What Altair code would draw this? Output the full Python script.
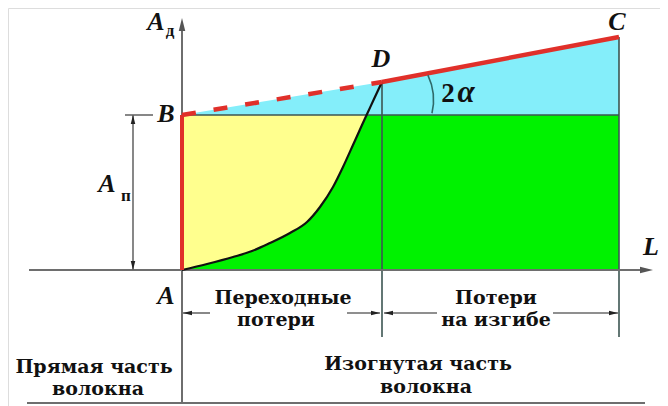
import altair as alt
import pandas as pd

# ---------------- data (diagram units: L to the right, A upward, origin at point A) -------------
pts_name = ["A", "B", "D", "C"]
pts_L = [0, 0, 200, 437]
pts_A = [0, 155, 188, 233]

# transition-loss curve A -> D
curve_L = [0, 25, 51, 70, 88, 108, 125, 138, 151, 161, 171, 180, 186, 192, 200]
curve_A = [0, 6, 13, 19, 27, 37, 48, 63, 83, 103, 125, 145, 158, 171, 188]

# gray construction lines: (L1, A1, L2, A2)
gray_L1 = [0, -153, -155, -49, -57, 1, 165, 202, 371]
gray_A1 = [-133, 0, -133, 0, 155, -43, -43, -43, -43]
gray_L2 = [0, 462, 463, -49, -29, 28, 198, 255, 436]
gray_A2 = [242, 0, -133, 155, 155, -43, -43, -43, -43]
gray_W = ["axis", "axis", "axis", "dim", "dim", "dim", "dim", "dim", "dim"]

# dark division lines
div_L1 = [0, 200, 437]
div_A1 = [155, 188, 233]
div_L2 = [437, 200, 437]
div_A2 = [155, -67, -67]

# arrow tips: (L, A, direction, kind)
tip_L = [0, 471, -49, -49, 1, 198, 202, 436]
tip_A = [252, 0, 155, 0, -43, -43, -43, -43]
tip_dir = ["u", "r", "u", "d", "l", "r", "l", "r"]
tip_kind = ["axis", "axis", "dim", "dim", "dim", "dim", "dim", "dim"]

# angle arc 2α
arc_center_L, arc_center_A = [193], [170]

# labels
letter_text = ["A", "B", "A", "A", "D", "C", "L"]
letter_L = [-26, -16, -75, -16, 199, 435, 469]
letter_A = [248, 156, 86, -26, 211, 248, 23]
sub_text = ["д", "п"]
sub_L = [-12, -56]
sub_A = [239, 74]
angle_text = ["2", "α"]
angle_L = [266, 284]
angle_A = [168, 168]
caption_text = ["Переходные", "потери", "Потери", "на изгибе",
                "Прямая часть", "волокна", "Изогнутая часть", "волокна"]
caption_L = [101, 94, 314, 314, -88, -84, 236, 244]
caption_A = [-28, -50, -28, -50, -97, -119, -94, -117]

# ---------------- chart -------------
W, H = 652, 398
xs = alt.Scale(domain=[-174, 478], nice=False, zero=False)
ys = alt.Scale(domain=[-136, 262], nice=False, zero=False)


def X(f):
    return alt.X(f, type="quantitative", scale=xs, axis=None)


def Y(f):
    return alt.Y(f, type="quantitative", scale=ys, axis=None)


pts = pd.DataFrame({"name": pts_name, "L": pts_L, "A": pts_A})
curve = pd.DataFrame({"L": curve_L, "A": curve_A})

green = alt.Chart(pd.DataFrame({"L": [pts_L[0]], "L2": [pts_L[3]], "A": [0], "A2": [pts_A[1]]})).mark_rect(
    color="#00F200").encode(x=X("L"), x2="L2", y=Y("A"), y2="A2")

cyan_df = pd.DataFrame({"L": pts_L[1:], "A": pts_A[1:], "A0": [pts_A[1]] * 3})
cyan = alt.Chart(cyan_df).mark_area(color="#84EEFA", opacity=1).encode(x=X("L"), y=Y("A"), y2="A0")

ycurve = curve[curve["A"] <= pts_A[1] + 3].copy()
ycurve["Atop"] = pts_A[1]
yellow = alt.Chart(ycurve).mark_area(color="#FFFF8E", opacity=1, interpolate="monotone").encode(
    x=X("L"), y=Y("A"), y2="Atop")

gray_df = pd.DataFrame({"L": gray_L1, "A": gray_A1, "L2": gray_L2, "A2": gray_A2, "w": gray_W})
gray_axis = alt.Chart(gray_df[gray_df.w == "axis"]).mark_rule(color="#6E6E6E", strokeWidth=2).encode(
    x=X("L"), x2="L2", y=Y("A"), y2="A2")
gray_dim = alt.Chart(gray_df[gray_df.w == "dim"]).mark_rule(color="#6A6A6A", strokeWidth=1.6).encode(
    x=X("L"), x2="L2", y=Y("A"), y2="A2")

div_df = pd.DataFrame({"L": div_L1, "A": div_A1, "L2": div_L2, "A2": div_A2})
divs = alt.Chart(div_df).mark_rule(color="#3C5552", strokeWidth=1.6).encode(
    x=X("L"), x2="L2", y=Y("A"), y2="A2")

curve_line = alt.Chart(curve).mark_line(color="#111111", strokeWidth=2.2, interpolate="monotone").encode(
    x=X("L"), y=Y("A"))

red_df = pd.DataFrame({"L": [0], "A": [0], "L2": [0], "A2": [pts_A[1]]})
red_v = alt.Chart(red_df).mark_rule(color="#E0302A", strokeWidth=4).encode(
    x=X("L"), x2="L2", y=Y("A"), y2="A2")
red_dash = alt.Chart(pts.iloc[1:3]).mark_line(color="#E0302A", strokeWidth=4.5, strokeDash=[14, 18]).encode(
    x=X("L"), y=Y("A"))
red_solid = alt.Chart(pts.iloc[2:4]).mark_line(color="#E0302A", strokeWidth=4.5).encode(
    x=X("L"), y=Y("A"))

paths = {
    "r": "M1,0L-1,-0.5L-1,0.5Z",
    "l": "M-1,0L1,-0.5L1,0.5Z",
    "u": "M0,-1L-0.5,1L0.5,1Z",
    "d": "M0,1L-0.5,-1L0.5,-1Z",
}
vec = {"r": (1, 0), "l": (-1, 0), "u": (0, 1), "d": (0, -1)}
tips = pd.DataFrame({"L": tip_L, "A": tip_A, "dir": tip_dir, "kind": tip_kind})
tips["len"] = tips["kind"].map({"axis": 13, "dim": 9})
tips["Lc"] = tips["L"] - tips["dir"].map(lambda d: vec[d][0]) * tips["len"] / 2
tips["Ac"] = tips["A"] - tips["dir"].map(lambda d: vec[d][1]) * tips["len"] / 2
shape_enc = alt.Shape("dir:N", scale=alt.Scale(domain=list(paths), range=list(paths.values())), legend=None)
arrows_axis = alt.Chart(tips[tips.kind == "axis"]).mark_point(filled=True, opacity=1, color="#555555",
                                                               size=169).encode(
    x=X("Lc"), y=Y("Ac"), shape=shape_enc)
arrows_dim = alt.Chart(tips[tips.kind == "dim"]).mark_point(filled=True, opacity=1, color="#222222",
                                                             size=81).encode(
    x=X("Lc"), y=Y("Ac"), shape=shape_enc)

arc = alt.Chart(pd.DataFrame({"L": arc_center_L, "A": arc_center_A})).mark_arc(
    filled=False, stroke="#2F6A6A", strokeWidth=1.6, radius=58.5, radius2=58.5,
    theta=1.13, theta2=1.8).encode(x=X("L"), y=Y("A"))

letters = alt.Chart(pd.DataFrame({"t": letter_text, "L": letter_L, "A": letter_A})).mark_text(
    font="Liberation Serif", fontSize=26, fontWeight="bold", fontStyle="italic", color="#111111",
    baseline="middle", align="center").encode(x=X("L"), y=Y("A"), text="t:N")
subs = alt.Chart(pd.DataFrame({"t": sub_text, "L": sub_L, "A": sub_A})).mark_text(
    font="Liberation Serif", fontSize=17, fontWeight="bold", color="#111111",
    baseline="middle", align="center").encode(x=X("L"), y=Y("A"), text="t:N")
two = alt.Chart(pd.DataFrame({"t": angle_text[:1], "L": angle_L[:1], "A": angle_A[:1]})).mark_text(
    font="Liberation Serif", fontSize=27, fontWeight="bold", color="#111111",
    baseline="alphabetic", align="center").encode(x=X("L"), y=Y("A"), text="t:N")
alpha = alt.Chart(pd.DataFrame({"t": angle_text[1:], "L": angle_L[1:], "A": angle_A[1:]})).mark_text(
    font="Liberation Serif", fontSize=31, fontWeight="bold", fontStyle="italic", color="#111111",
    baseline="alphabetic", align="center").encode(x=X("L"), y=Y("A"), text="t:N")
captions = alt.Chart(pd.DataFrame({"t": caption_text, "L": caption_L, "A": caption_A})).mark_text(
    font="DejaVu Serif", fontSize=19, fontWeight="bold", color="#111111",
    baseline="middle", align="center").encode(x=X("L"), y=Y("A"), text="t:N")

chart = alt.layer(
    green, cyan, yellow, divs, gray_axis, gray_dim, curve_line, red_v, red_dash, red_solid,
    arrows_axis, arrows_dim, arc, letters, subs, two, alpha, captions
).properties(width=W, height=H, padding=0, autosize=alt.AutoSizeParams(type="none")).configure_view(
    stroke=None).configure(background="white")

chart.save("out.html", embed_options={"renderer": "svg", "actions": False})
